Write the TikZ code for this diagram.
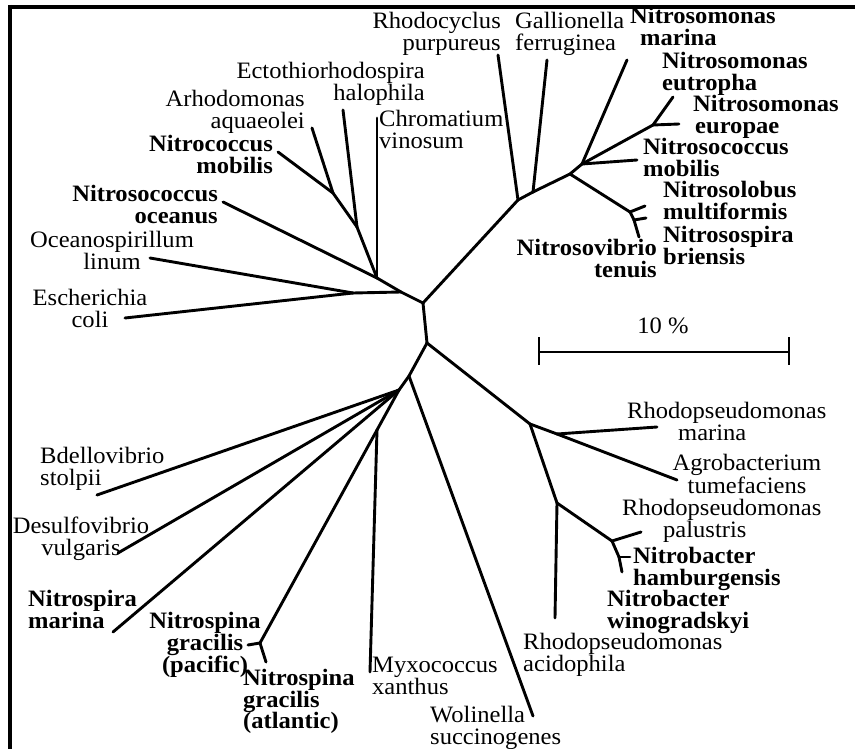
\documentclass[tikz,border=0pt]{standalone}
\usepackage{fontspec}
\setmainfont{Liberation Serif}[FakeStretch=1.045]
\begin{document}
\begin{tikzpicture}[x=1pt,y=-1pt,
  edge/.style={line width=2.9pt, line cap=round, line join=round},
  barline/.style={line width=1.8pt},
  frame/.style={line width=4pt},
  lbl/.style={inner sep=0pt, font=\fontsize{23.5}{21.5}\selectfont},
  blbl/.style={inner sep=0pt, font=\fontsize{23.5}{21.5}\selectfont\bfseries}]
\useasboundingbox (0,0) rectangle (855,749);
\fill[white] (0,0) rectangle (855,749);
% frame
\coordinate (f1) at (8,7); \coordinate (f2) at (855,7); \coordinate (f3) at (10,5); \coordinate (f4) at (10,749);
\draw[frame] (f1) -- (f2);
\draw[frame] (f3) -- (f4);
% internal nodes
\coordinate (A) at (423,303);
\coordinate (B) at (427,343);
\coordinate (E) at (401,292);
\coordinate (C1) at (377,278);
\coordinate (C2) at (357,227);
\coordinate (C3) at (333,193);
\coordinate (D) at (353,293);
\coordinate (F) at (518,200);
\coordinate (G) at (533,192);
\coordinate (H) at (570,174);
\coordinate (I) at (582,164);
\coordinate (J) at (653,125);
\coordinate (K1) at (630,212);
\coordinate (K2) at (634,220);
\coordinate (L1) at (409,376);
\coordinate (L2) at (399,390);
\coordinate (M) at (377,430);
\coordinate (N) at (260,643);
\coordinate (P) at (530,424);
\coordinate (Q) at (557,434);
\coordinate (R) at (557,503);
\coordinate (S1) at (612,541);
\coordinate (S2) at (619,557);
% leaves
\coordinate (lOce) at (223,202);
\coordinate (lChr) at (377,118);
\coordinate (lHal) at (343,110);
\coordinate (lArh) at (312,128);
\coordinate (lNcm) at (278,152);
\coordinate (lOsp) at (150,258);
\coordinate (lEco) at (125,318);
\coordinate (lRcy) at (498,55);
\coordinate (lGal) at (547,60);
\coordinate (lNsmar) at (627,60);
\coordinate (lNscmob) at (637,160);
\coordinate (lEut) at (673,97);
\coordinate (lEur) at (679,124);
\coordinate (lNlob) at (645,206);
\coordinate (lNspi) at (646,218);
\coordinate (lNvib) at (639,237);
\coordinate (lWol) at (533,716);
\coordinate (lBde) at (97,495);
\coordinate (lDes) at (118,553);
\coordinate (lNsmarina) at (113,632);
\coordinate (lMyx) at (370,672);
\coordinate (lPac) at (248,645);
\coordinate (lAtl) at (266,662);
\coordinate (lRmar) at (657,427);
\coordinate (lAgr) at (677,480);
\coordinate (lAci) at (555,618);
\coordinate (lPal) at (641,532);
\coordinate (lHam) at (630,557);
\coordinate (lWin) at (622,572);
% edges
\draw[edge] (A) -- (E);
\draw[edge] (E) -- (C1);
\draw[edge] (C1) -- (lOce);
\draw[edge] (C1) -- (lChr);
\draw[edge] (C1) -- (C2);
\draw[edge] (C2) -- (lHal);
\draw[edge] (C2) -- (C3);
\draw[edge] (C3) -- (lArh);
\draw[edge] (C3) -- (lNcm);
\draw[edge] (E) -- (D);
\draw[edge] (D) -- (lOsp);
\draw[edge] (D) -- (lEco);
\draw[edge] (A) -- (F);
\draw[edge] (F) -- (lRcy);
\draw[edge] (F) -- (G);
\draw[edge] (G) -- (lGal);
\draw[edge] (G) -- (H);
\draw[edge] (H) -- (I);
\draw[edge] (I) -- (lNsmar);
\draw[edge] (I) -- (lNscmob);
\draw[edge] (I) -- (J);
\draw[edge] (J) -- (lEut);
\draw[edge] (J) -- (lEur);
\draw[edge] (H) -- (K1);
\draw[edge] (K1) -- (lNlob);
\draw[edge] (K1) -- (K2);
\draw[edge] (K2) -- (lNspi);
\draw[edge] (K2) -- (lNvib);
\draw[edge] (A) -- (B);
\draw[edge] (B) -- (L1);
\draw[edge] (L1) -- (lWol);
\draw[edge] (L1) -- (L2);
\draw[edge] (L2) -- (lBde);
\draw[edge] (L2) -- (lDes);
\draw[edge] (L2) -- (lNsmarina);
\draw[edge] (L2) -- (M);
\draw[edge] (M) -- (lMyx);
\draw[edge] (M) -- (N);
\draw[edge] (N) -- (lPac);
\draw[edge] (N) -- (lAtl);
\draw[edge] (B) -- (P);
\draw[edge] (P) -- (Q);
\draw[edge] (Q) -- (lRmar);
\draw[edge] (Q) -- (lAgr);
\draw[edge] (P) -- (R);
\draw[edge] (R) -- (lAci);
\draw[edge] (R) -- (S1);
\draw[edge] (S1) -- (lPal);
\draw[edge] (S1) -- (S2);
\draw[edge] (S2) -- (lHam);
\draw[edge] (S2) -- (lWin);
% scale bar
\coordinate (sb1) at (539,352); \coordinate (sb2) at (789,352);
\coordinate (sb1t) at (539,337); \coordinate (sb1b) at (539,365);
\coordinate (sb2t) at (789,337); \coordinate (sb2b) at (789,365);
\draw[barline] (sb1) -- (sb2);
\draw[barline] (sb1t) -- (sb1b);
\draw[barline] (sb2t) -- (sb2b);
\node[lbl] (tbar) at (663,326) {10 \%};
% labels
\node[lbl, anchor=north east, align=right] (tRcy) at (501,12) {Rhodocyclus\\purpureus};
\node[lbl, anchor=north west, align=left] (tGal) at (515,12) {Gallionella\\ferruginea};
\node[blbl, anchor=north west, align=left] (tNsmar) at (630,7) {Nitrosomonas\\\hspace*{10pt}marina};
\node[blbl, anchor=north west, align=left] (tEut) at (662,52) {Nitrosomonas\\eutropha};
\node[blbl, anchor=north west, align=left] (tEur) at (693,95) {Nitrosomonas\\\hspace*{2pt}europae};
\node[blbl, anchor=north west, align=left] (tNscmob) at (643,138) {Nitrosococcus\\mobilis};
\node[blbl, anchor=north west, align=left] (tNlob) at (663,181) {Nitrosolobus\\multiformis};
\node[blbl, anchor=north west, align=left] (tNspi) at (663,226) {Nitrosospira\\briensis};
\node[blbl, anchor=north east, align=right] (tNvib) at (657,239) {Nitrosovibrio\\tenuis};
\node[lbl, anchor=north east, align=right] (tHal) at (425,62) {Ectothiorhodospira\\halophila};
\node[lbl, anchor=north east, align=right] (tArh) at (305,90) {Arhodomonas\\aquaeolei};
\node[lbl, anchor=north west, align=left] (tChr) at (379,110) {Chromatium\\vinosum};
\node[blbl, anchor=north east, align=right] (tNcm) at (273,135) {Nitrococcus\\mobilis};
\node[blbl, anchor=north east, align=right] (tOce) at (218,185) {Nitrosococcus\\oceanus};
\node[lbl, anchor=north, align=center] (tOsp) at (112,231) {Oceanospirillum\\linum};
\node[lbl, anchor=north, align=center] (tEco) at (90,289) {Escherichia\\coli};
\node[lbl, anchor=north west, align=left] (tBde) at (40,447) {Bdellovibrio\\stolpii};
\node[lbl, anchor=north, align=center] (tDes) at (81,517) {Desulfovibrio\\vulgaris};
\node[blbl, anchor=north west, align=left] (tNsmarina) at (28,590) {Nitrospira\\marina};
\node[blbl, anchor=north, align=center] (tPac) at (205,612) {Nitrospina\\gracilis\\(pacific)};
\node[blbl, anchor=north west, align=left] (tAtl) at (243,669) {Nitrospina\\gracilis\\(atlantic)};
\node[lbl, anchor=north west, align=left] (tMyx) at (372,657) {Myxococcus\\xanthus};
\node[lbl, anchor=north west, align=left] (tWol) at (430,706) {Wolinella\\succinogenes};
\node[lbl, anchor=north west, align=left] (tRmar) at (627,402) {Rhodopseudomonas\\\hspace*{51pt}marina};
\node[lbl, anchor=north, align=center] (tAgr) at (747,454) {Agrobacterium\\tumefaciens};
\node[lbl, anchor=north west, align=left] (tPal) at (622,499) {Rhodopseudomonas\\\hspace*{41pt}palustris};
\node[blbl, anchor=north west, align=left] (tHam) at (633,547) {Nitrobacter\\hamburgensis};
\node[blbl, anchor=north west, align=left] (tWin) at (607,590) {Nitrobacter\\winogradskyi};
\node[lbl, anchor=north west, align=left] (tAci) at (523,633) {Rhodopseudomonas\\acidophila};
\end{tikzpicture}
\end{document}
